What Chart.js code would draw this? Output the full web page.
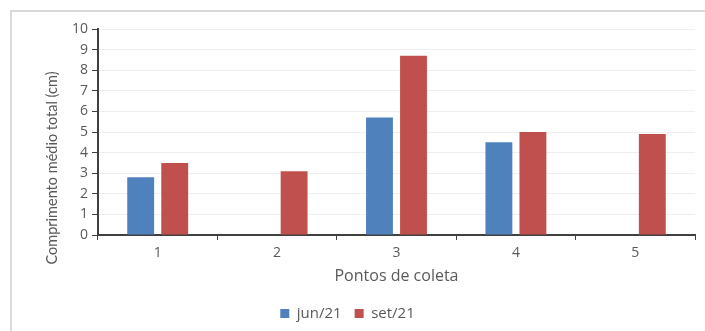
<!DOCTYPE html>
<html>
<head>
<meta charset="utf-8">
<script src="https://cdn.jsdelivr.net/npm/chart.js@4.4.1/dist/chart.umd.min.js"></script>
<style>
  html, body { margin: 0; padding: 0; background: #fff; }
  #wrap { position: relative; width: 705px; height: 331px; overflow: hidden; }
  #frame { position: absolute; left: 10px; top: 10px; width: 720px; height: 340px;
           border-top: 2px solid #d9d9d9; border-left: 2px solid #d9d9d9; box-sizing: border-box; }
  canvas { position: absolute; left: 0; top: 0; }
</style>
</head>
<body>
<div id="wrap">
  <div id="frame"></div>
  <canvas id="c" width="705" height="331"></canvas>
</div>
<script>
// Collection points and mean total length per campaign (cm)
const categories = ['1', '2', '3', '4', '5'];
const jun21 = [2.8, null, 5.7, 4.5, null];
const set21 = [3.5, 3.1, 8.7, 5.0, 4.9];
const yMin = 0, yMax = 10, yStep = 1;
const yTitle = 'Comprimento médio total (cm)';
const xTitle = 'Pontos de coleta';

const textColor = '#595959';
const axisColor = '#404040';

// Rotated y-axis title, drawn beside the value axis
const yTitlePlugin = {
  id: 'yTitle',
  afterDraw(chart) {
    const ctx = chart.ctx;
    ctx.save();
    ctx.translate(52, 168);
    ctx.rotate(-Math.PI / 2);
    ctx.font = '14.5px Lato';
    ctx.fillStyle = textColor;
    ctx.textAlign = 'center';
    ctx.textBaseline = 'middle';
    ctx.fillText(yTitle, 0, 0);
    ctx.restore();
  }
};

new Chart(document.getElementById('c'), {
  type: 'bar',
  data: {
    labels: categories,
    datasets: [
      { label: 'jun/21', data: jun21, backgroundColor: '#4f81bd' },
      { label: 'set/21', data: set21, backgroundColor: '#c0504d' }
    ]
  },
  plugins: [yTitlePlugin],
  options: {
    responsive: false,
    animation: false,
    devicePixelRatio: 1,
    categoryPercentage: 0.57,
    barPercentage: 0.79,
    layout: { padding: { top: 29, right: 10, left: 0, bottom: 0 } },
    plugins: {
      tooltip: { enabled: false },
      legend: {
        position: 'bottom',
        labels: {
          boxWidth: 9, boxHeight: 9, padding: 13,
          color: textColor,
          font: { family: 'Open Sans', size: 15 }
        }
      }
    },
    scales: {
      y: {
        min: yMin, max: yMax,
        ticks: { stepSize: yStep, color: textColor, padding: 4,
                 font: { family: 'Open Sans', size: 14 } },
        grid: { color: '#efefef', lineWidth: 1, tickColor: axisColor, tickLength: 6 },
        border: { color: axisColor, width: 2 },
        afterFit(scale) { scale.width = 98; }
      },
      x: {
        offset: true,
        ticks: { color: textColor, padding: 5, font: { family: 'Open Sans', size: 14 } },
        grid: { offset: true, drawOnChartArea: false, tickColor: axisColor, tickLength: 5 },
        border: { color: axisColor, width: 2 },
        title: { display: true, text: xTitle, color: textColor, padding: { top: 0, bottom: 7 },
                 font: { family: 'Open Sans', size: 16 } }
      }
    }
  }
});
</script>
</body>
</html>
